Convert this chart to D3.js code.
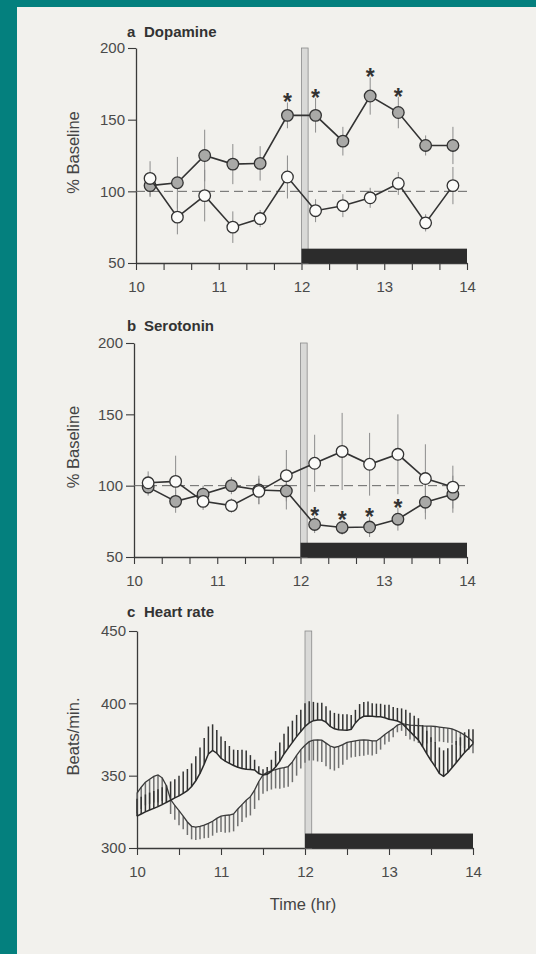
<!DOCTYPE html>
<html>
<meta charset="utf-8">
<script src="https://cdn.jsdelivr.net/npm/d3@7"></script>
<style>
  body { margin: 0; background: #f2f1ed; }
  svg text { font-family: "Liberation Sans", Arial, Helvetica, sans-serif; }
</style>
<body>
<svg id="fig" width="536" height="954"></svg>
<script>

// ---- microdialysis samples (20 min bins, plotted at bin centre) ----
var sampleTimes = [10.17, 10.5, 10.83, 11.17, 11.5, 11.83, 12.17, 12.5, 12.83, 13.17, 13.5, 13.83];

var daFilled    = [104, 106, 125, 119, 119.5, 153, 153, 135, 166.5, 155, 132, 132];
var daFilledSem = [8, 18, 18, 14, 12, 9, 12, 10, 13, 11, 7, 13];
var daOpen      = [109, 82, 97, 75, 81, 110, 86.5, 90, 95.5, 105.5, 78, 104];
var daOpenSem   = [12, 12, 18, 11, 6, 15, 8, 8, 7, 8, 6, 13];
var daStars     = [5, 6, 8, 9];

var htFilled    = [99, 89, 94, 100, 97, 96.3, 72.8, 70.7, 71, 76.5, 88.4, 94];
var htFilledSem = [6, 8, 6, 6, 10, 13, 6, 5, 7, 8, 12, 13];
var htOpen      = [102, 103, 89, 86, 96, 107, 115.7, 124, 115, 122, 105, 99];
var htOpenSem   = [8, 18, 6, 5, 9, 18, 20, 27, 22, 28, 24, 15];
var htStars     = [6, 7, 8, 9];

// ---- heart rate, 3 min samples from 10:00 to 14:00 ----
var hrTimes = d3.range(81).map(function(k){ return 10 + k * 0.05; });

var hrDark = [322, 323.5, 325, 326.3, 327.4, 328.6, 330, 331.5, 333, 334.6,
  336, 337.8, 339.6, 342.5, 346.5, 351.5, 358, 365, 367.5, 365.5,
  362, 360, 358.5, 357, 355.8, 355, 354.4, 354.2, 354, 351.5,
  350.4, 351, 353, 356, 360, 365, 369, 373, 377, 380.5,
  384, 386.5, 388, 388.4, 388.4, 387, 384, 382.4, 381.8, 381.5,
  381.4, 382, 386.5, 389.5, 391, 391.2, 391, 390.8, 390.7, 390,
  389, 388.5, 387.8, 386.5, 383.5, 380.5, 377.5, 374.7, 370, 365,
  360.5, 356.3, 351.5, 349.5, 352, 355.5, 359, 362.5, 366, 369, 372];
var hrDarkSem = [12, 12, 12, 12, 12, 12, 12, 12, 13, 13,
  14, 15, 15, 16, 17, 18, 18, 19, 18, 16,
  15, 14, 12, 11, 12, 13, 13, 10, 7, 5,
  4, 5, 8, 11, 13, 14, 15, 15, 15, 15,
  16, 15, 13, 12, 12, 11, 11, 11, 11, 11,
  11, 10, 9, 10, 10, 10, 9, 9, 9, 9,
  10, 9, 9, 10, 12, 13, 14, 15, 15, 16,
  16, 17, 18, 18, 17, 16, 15, 14, 14, 13, 10];

var hrLight = [338, 342, 345.5, 347.5, 349.5, 350.5, 348.5, 343, 333.5, 329.5,
  325.8, 322, 318, 315, 314.5, 315, 315.8, 317, 318.5, 320.5,
  322, 322.5, 322.8, 323.5, 327, 330, 333, 335.5, 340, 346,
  350.5, 352.3, 353.4, 354.2, 355, 355.6, 356.3, 359.5, 364, 368,
  371, 373.5, 374.5, 374.8, 374.5, 372.5, 370.5, 369.5, 370.2, 371.5,
  373, 373.5, 374, 374.5, 374.7, 374.5, 374, 374, 376, 378.5,
  380.5, 382.5, 385, 386, 385.5, 385, 384.8, 384.6, 384.4, 384.3,
  384.2, 384, 383.6, 383.2, 382.8, 382.3, 381.2, 379.8, 378, 376, 373.5];
var hrLightSem = [14, 15, 16, 17, 18, 19, 16, 12, 10, 10,
  10, 9, 9, 9, 9, 9, 9, 10, 10, 10,
  11, 12, 12, 12, 12, 12, 12, 13, 13, 13,
  13, 13, 13, 13, 14, 14, 14, 14, 14, 13,
  12, 13, 14, 15, 15, 16, 16, 16, 15, 14,
  12, 11, 11, 11, 11, 10, 10, 9, 8, 7,
  7, 6, 5, 5, 8, 10, 11, 12, 12, 12,
  11, 11, 10, 10, 10, 10, 10, 9, 9, 8, 8];

var hourLabels = [10, 11, 12, 13, 14];

var svg = d3.select("#fig");
var ink = "#3a3a3a";

svg.append("rect").attr("width", 536).attr("height", 954).attr("fill", "#f2f1ed");
svg.append("rect").attr("x", 0).attr("y", 0).attr("width", 17).attr("height", 954).attr("fill", "#04807e");
svg.append("rect").attr("x", 0).attr("y", 0).attr("width", 536).attr("height", 7).attr("fill", "#04807e");

function makePanel(cfg){
  var x = d3.scaleLinear().domain([10, 14]).range([cfg.x0, cfg.x1]);
  var y = d3.scaleLinear().domain(cfg.yDomain).range([cfg.yBot, cfg.yTop]);
  var g = svg.append("g");

  // title
  g.append("text").attr("x", 127).attr("y", cfg.titleY).style("font-size", "15px")
    .attr("font-weight", "bold").attr("fill", "#333").text(cfg.letter);
  g.append("text").attr("x", 144).attr("y", cfg.titleY).style("font-size", "15px")
    .attr("font-weight", "bold").attr("fill", "#333").text(cfg.title);

  // y label
  g.append("text")
    .attr("transform", "translate(73," + ((cfg.yTop + cfg.yBot) / 2 - 3) + ") rotate(-90)")
    .attr("text-anchor", "middle").attr("dy", "0.35em")
    .style("font-size", "16.5px").attr("fill", "#444").text(cfg.yLabel);

  var yAxis = d3.axisLeft(y).tickValues(cfg.yTicks).tickSize(8).tickSizeOuter(0).tickPadding(3);
  var xAxis = d3.axisBottom(x).tickValues(cfg.xTicks).tickSize(7).tickSizeOuter(0).tickPadding(11)
    .tickFormat(function(d){ return hourLabels.indexOf(Math.round(d * 1000) / 1000) >= 0 ? d : ""; });

  var ya = g.append("g").attr("transform", "translate(" + cfg.x0 + ",0)").call(yAxis);
  var xa = g.append("g").attr("transform", "translate(0," + cfg.yBot + ")").call(xAxis);
  [ya, xa].forEach(function(a){
    a.attr("font-size", null).attr("font-family", null);
    a.select(".domain").attr("stroke", ink).attr("stroke-width", 1.3);
    a.selectAll(".tick line").attr("stroke", ink).attr("stroke-width", 1.1);
    a.selectAll(".tick text").style("font-size", "15px").attr("fill", "#4a4a4a");
  });

  return {g: g, x: x, y: y};
}

function stimBars(p, yLow, yHigh, yDark){
  // brief stimulus marker and the dark period bar
  p.g.append("rect")
    .attr("x", p.x(12)).attr("width", p.x(12.08) - p.x(12))
    .attr("y", p.y(yHigh)).attr("height", p.y(yLow) - p.y(yHigh))
    .attr("fill", "#d9d9d7").attr("stroke", "#8a8a8a").attr("stroke-width", 0.8);
  p.g.append("rect")
    .attr("x", p.x(12)).attr("width", p.x(14) - p.x(12))
    .attr("y", p.y(yDark)).attr("height", p.y(yLow) - p.y(yDark))
    .attr("fill", "#2c2c2c");
}

function dialysisPanel(cfg, filled, filledSem, open, openSem, stars){
  var p = makePanel(cfg);
  var g = p.g;

  g.append("line").attr("x1", p.x(10)).attr("x2", p.x(14))
    .attr("y1", p.y(100)).attr("y2", p.y(100))
    .attr("stroke", "#666").attr("stroke-width", 1).attr("stroke-dasharray", "9,5");

  stimBars(p, 50, 200, 60);

  var series = [
    {v: filled, s: filledSem, fill: "#a9a9a7"},
    {v: open, s: openSem, fill: "#fbfbf9"}
  ];

  series.forEach(function(ser){
    g.selectAll(null).data(ser.v).enter().append("line")
      .attr("x1", function(d, i){ return p.x(sampleTimes[i]); })
      .attr("x2", function(d, i){ return p.x(sampleTimes[i]); })
      .attr("y1", function(d, i){ return p.y(d - ser.s[i]); })
      .attr("y2", function(d, i){ return p.y(d + ser.s[i]); })
      .attr("stroke", "#8c8c8c").attr("stroke-width", 1);
  });

  g.selectAll(null).data(stars).enter().append("text")
    .attr("x", function(i){ return p.x(sampleTimes[i]); })
    .attr("y", function(i){ return p.y(filled[i] + filledSem[i]) + 8; })
    .attr("text-anchor", "middle").style("font-size", "23px").attr("font-weight", "bold")
    .attr("fill", "#333").text("*");

  var line = d3.line()
    .x(function(d, i){ return p.x(sampleTimes[i]); })
    .y(function(d){ return p.y(d); });

  series.forEach(function(ser){
    g.append("path").attr("d", line(ser.v)).attr("fill", "none")
      .attr("stroke", "#333").attr("stroke-width", 1.6);
    g.selectAll(null).data(ser.v).enter().append("circle")
      .attr("cx", function(d, i){ return p.x(sampleTimes[i]); })
      .attr("cy", function(d){ return p.y(d); })
      .attr("r", 5.8).attr("fill", ser.fill)
      .attr("stroke", "#333").attr("stroke-width", 1.3);
  });
}

var thirdTicks = d3.range(13).map(function(i){ return 10 + i / 3; });
var halfTicks = d3.range(9).map(function(i){ return 10 + i / 2; });

dialysisPanel({letter: "a", title: "Dopamine", titleY: 37, yLabel: "% Baseline",
  x0: 136, x1: 467, yTop: 48, yBot: 263, yDomain: [50, 200], yTicks: [50, 100, 150, 200], xTicks: thirdTicks},
  daFilled, daFilledSem, daOpen, daOpenSem, daStars);

dialysisPanel({letter: "b", title: "Serotonin", titleY: 331, yLabel: "% Baseline",
  x0: 134, x1: 467, yTop: 343, yBot: 557, yDomain: [50, 200], yTicks: [50, 100, 150, 200], xTicks: thirdTicks},
  htFilled, htFilledSem, htOpen, htOpenSem, htStars);

// ---- heart rate panel ----
var pc = makePanel({letter: "c", title: "Heart rate", titleY: 617, yLabel: "Beats/min.",
  x0: 137, x1: 473, yTop: 631, yBot: 848, yDomain: [300, 450], yTicks: [300, 350, 400, 450], xTicks: halfTicks});

stimBars(pc, 300, 450, 310);

var hrSeries = [
  {v: hrLight, s: hrLightSem, dir: -1, hatch: "#707070", stroke: "#3a3a3a", w: 1.3},
  {v: hrDark, s: hrDarkSem, dir: 1, hatch: "#333", stroke: "#2a2a2a", w: 1.5}
];

hrSeries.forEach(function(ser){
  pc.g.selectAll(null).data(ser.v).enter().append("line")
    .attr("x1", function(d, i){ return pc.x(hrTimes[i]); })
    .attr("x2", function(d, i){ return pc.x(hrTimes[i]); })
    .attr("y1", function(d){ return pc.y(d); })
    .attr("y2", function(d, i){ return pc.y(d + ser.dir * ser.s[i]); })
    .attr("stroke", ser.hatch).attr("stroke-width", 1.5);
});

var hrLine = d3.line()
  .x(function(d, i){ return pc.x(hrTimes[i]); })
  .y(function(d){ return pc.y(d); });

hrSeries.forEach(function(ser){
  pc.g.append("path").attr("d", hrLine(ser.v)).attr("fill", "none")
    .attr("stroke", ser.stroke).attr("stroke-width", ser.w);
});

svg.append("text").attr("x", 303).attr("y", 910).attr("text-anchor", "middle")
  .style("font-size", "16.5px").attr("fill", "#444").text("Time (hr)");

</script>
</body>
</html>
